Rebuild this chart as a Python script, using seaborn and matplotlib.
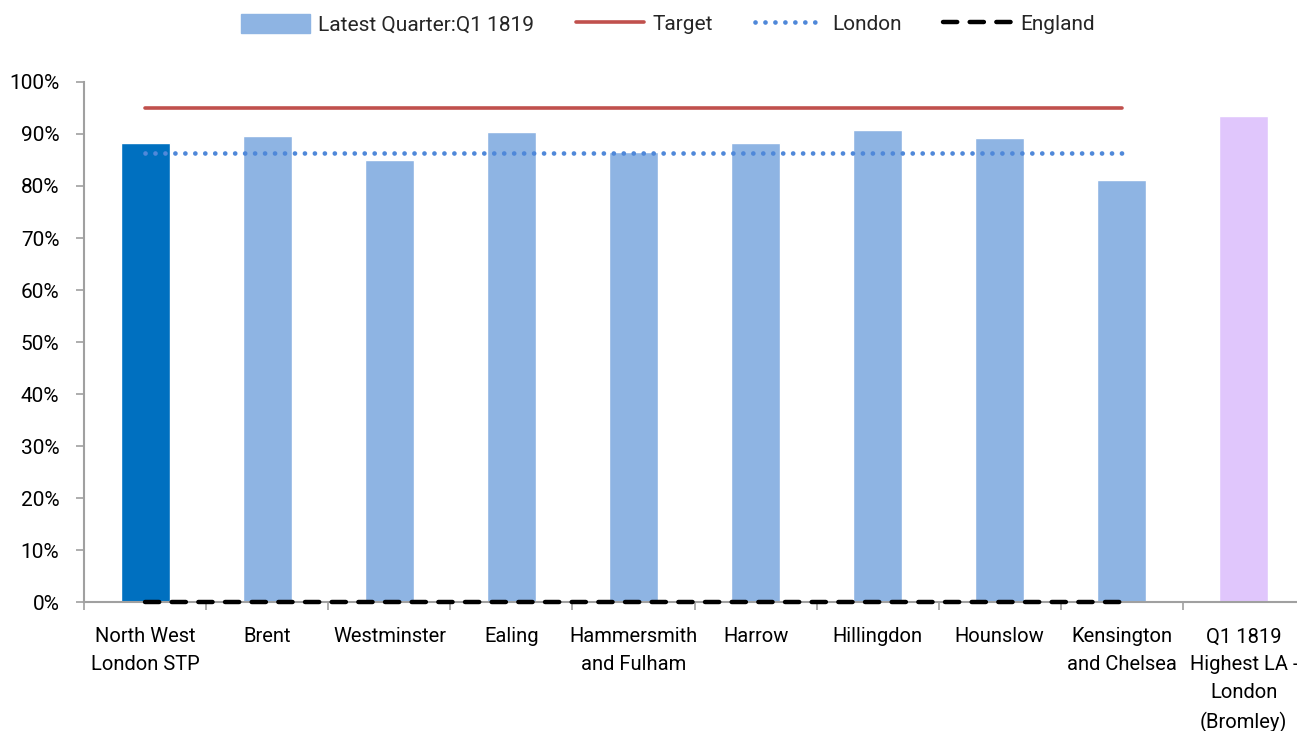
import numpy as np
import pandas as pd
import matplotlib
matplotlib.use("Agg")
import matplotlib.pyplot as plt
import seaborn as sns
from matplotlib.lines import Line2D
from matplotlib.patches import Patch
from matplotlib.ticker import PercentFormatter

categories = ["North West\nLondon STP", "Brent", "Westminster", "Ealing",
              "Hammersmith\nand Fulham", "Harrow", "Hillingdon", "Hounslow",
              "Kensington\nand Chelsea", "Q1 1819\nHighest LA -\nLondon\n(Bromley)"]
latest = [88.3, 89.6, 85.0, 90.4, 86.6, 88.3, 90.8, 89.2, 81.2, 93.5]
bar_colors = ["#0070C0"] + ["#8EB4E3"] * 8 + ["#E0C6FC"]
target = [95] * 9
london = [86.4] * 9
england = [0] * 9

sns.set_style("white")
plt.rcParams["font.family"] = ["Roboto", "DejaVu Sans"]

fig = plt.figure(figsize=(12.97, 7.31), dpi=100)
ax = fig.add_axes([0.065, 0.176, 0.941, 0.712])

df = pd.DataFrame({"area": categories, "value": latest})
sns.barplot(data=df, x="area", y="value", hue="area", palette=bar_colors,
            legend=False, width=0.4, saturation=1, ax=ax)

xs = np.arange(len(target))
ax.plot(xs, target, color="#C0504D", lw=2.6, solid_capstyle="round")
ax.plot(xs, london, color="#4F88D9", lw=3.4, linestyle=(0, (0.01, 2.1)),
        dash_capstyle="round")
ax.plot(xs, england, color="black", lw=3.2, linestyle=(0, (3.2, 2.8)),
        dash_capstyle="round", clip_on=False, zorder=5)

ax.set_xlim(-0.5, len(categories) - 0.5)
ax.set_ylim(0, 100)
ax.set_yticks(range(0, 101, 10))
ax.yaxis.set_major_formatter(PercentFormatter(decimals=0))
ax.set_xlabel("")
ax.set_ylabel("")

ax.set_xticks(np.arange(-0.5, len(categories), 1), minor=True)
ax.tick_params(axis="x", which="major", length=0, pad=18, labelsize=14.5, colors="black")
ax.tick_params(axis="x", which="minor", bottom=True, length=6, color="#A0A0A0",
               width=1.2, direction="out")
ax.tick_params(axis="y", length=6, color="#A0A0A0", width=1.2, direction="out",
               labelsize=15, left=True, labelcolor="black", pad=12)
for t in ax.get_xticklabels():
    t.set_linespacing(1.6)

for s in ["top", "right"]:
    ax.spines[s].set_visible(False)
for s in ["left", "bottom"]:
    ax.spines[s].set_color("#A0A0A0")
    ax.spines[s].set_linewidth(1.5)

handles = [Patch(color="#8EB4E3", label="Latest Quarter:Q1 1819"),
           Line2D([], [], color="#C0504D", lw=2.6, label="Target"),
           Line2D([], [], color="#4F88D9", lw=3.4, linestyle=(0, (0.01, 2.1)),
                  dash_capstyle="round", label="London"),
           Line2D([], [], color="black", lw=3.2, linestyle=(0, (3.2, 2.8)),
                  dash_capstyle="round", label="England")]
fig.legend(handles=handles, loc="center", bbox_to_anchor=(0.515, 0.967), ncol=4,
           frameon=False, fontsize=15, handlelength=3.3, handleheight=1.0,
           columnspacing=2.0, handletextpad=0.4)

fig.savefig("out.png", dpi=100)
